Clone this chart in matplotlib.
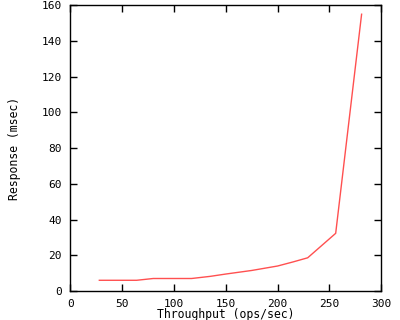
import numpy as np
import matplotlib
matplotlib.use("Agg")
import matplotlib.pyplot as plt

# values
throughput = [28, 64, 80, 117, 135, 150, 175, 200, 215, 229, 256, 281]
response = [6.0, 6.0, 7.0, 7.0, 8.2, 9.5, 11.5, 14.0, 16.3, 18.6, 32.3, 155.0]

x_ticks = [0, 50, 100, 150, 200, 250, 300]
y_ticks = [0, 20, 40, 60, 80, 100, 120, 140, 160]

plt.rcParams["font.family"] = "DejaVu Sans Mono"
plt.rcParams["font.size"] = 8.3

fig = plt.figure(figsize=(4, 3.2), dpi=100)
ax = fig.add_axes([70.3 / 400, 1 - 291 / 320, 311 / 400, 285.7 / 320])

ax.plot(throughput, response, color="#ff5050", linewidth=1.0)

ax.set_xlim(0, 300)
ax.set_ylim(0, 160)
ax.set_xticks(x_ticks)
ax.set_yticks(y_ticks)
ax.tick_params(direction="in", length=5, width=1, top=True, right=True,
               labelsize=8, pad=6)
for s in ax.spines.values():
    s.set_linewidth(1)

ax.set_xlabel("Throughput (ops/sec)", labelpad=-1)
ax.set_ylabel("Response (msec)")
ax.yaxis.set_label_coords(-0.16, 0.5)

fig.savefig("out.png", dpi=100)
